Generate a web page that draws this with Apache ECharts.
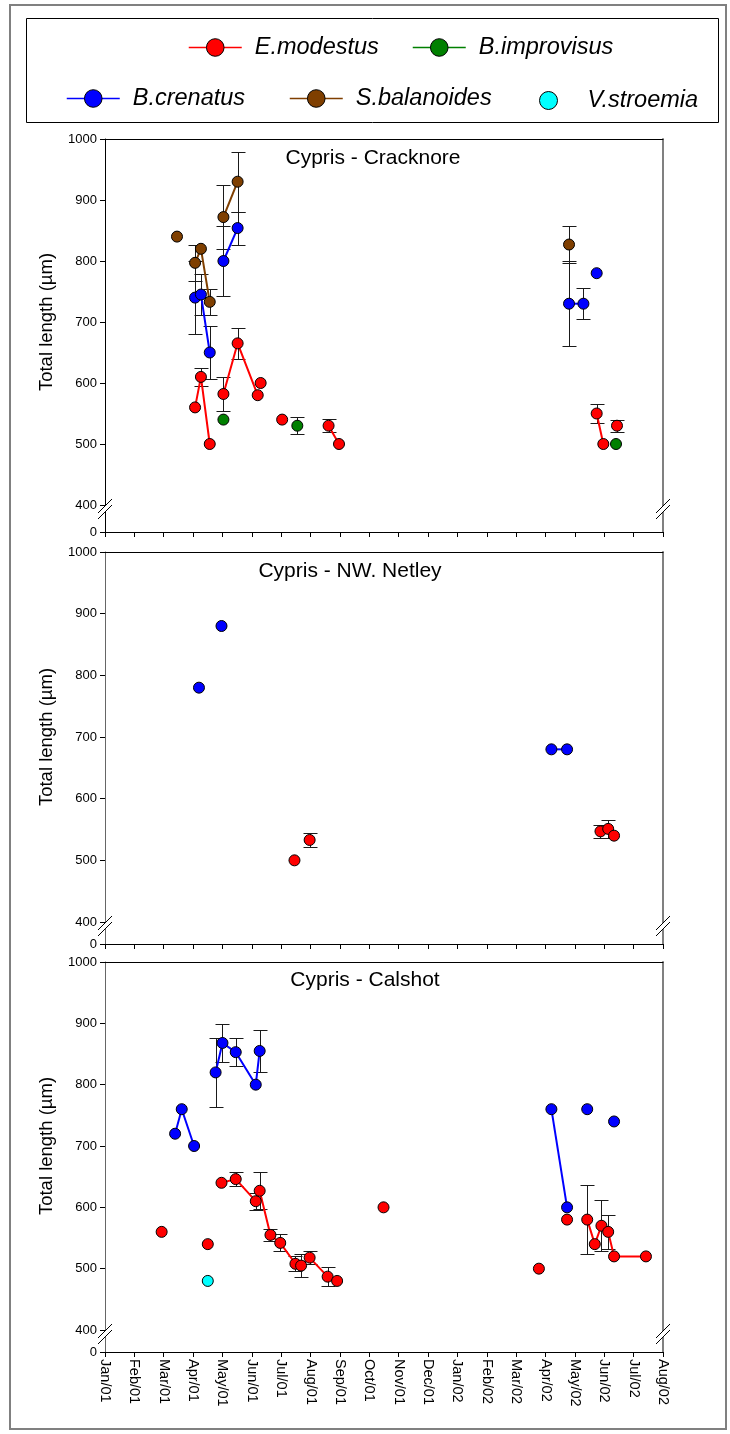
<!DOCTYPE html>
<html>
<head>
<meta charset="utf-8">
<script src="https://cdn.jsdelivr.net/npm/echarts@6/dist/echarts.min.js"></script>
<style>
  html, body { margin: 0; padding: 0; background: #fff; }
  #chart { width: 730px; height: 1434px; }
</style>
</head>
<body>
<div id="chart"></div>
<script>
// Month tick labels along the shared time axis (one tick per month start)
const monthLabels = ['Jan/01', 'Feb/01', 'Mar/01', 'Apr/01', 'May/01', 'Jun/01', 'Jul/01',
  'Aug/01', 'Sep/01', 'Oct/01', 'Nov/01', 'Dec/01', 'Jan/02', 'Feb/02', 'Mar/02',
  'Apr/02', 'May/02', 'Jun/02', 'Jul/02', 'Aug/02'];

const speciesNames = ['E.modestus', 'B.improvisus', 'B.crenatus', 'S.balanoides', 'V.stroemia'];
const panelTitles = ['Cypris - Cracknore', 'Cypris - NW. Netley', 'Cypris - Calshot'];

// Each record: [sampling date, mean total length (µm), ± error, run]
// Records sharing a run number are joined by a line.
const crackModestus = [
  ['2001-04-03', 560, 0, 1], ['2001-04-09', 610, 15, 1], ['2001-04-18', 500, 0, 1],
  ['2001-05-02', 582, 28, 2], ['2001-05-17', 665, 25, 2], ['2001-06-07', 580, 0, 2],
  ['2001-06-10', 600, 0, 3],
  ['2001-07-02', 540, 0, 4],
  ['2001-08-20', 530, 11, 5], ['2001-08-31', 500, 0, 5],
  ['2002-05-24', 550, 15, 6], ['2002-05-31', 500, 0, 6],
  ['2002-06-14', 530, 10, 7]
];
const crackImprovisus = [
  ['2001-05-02', 540, 0, 1],
  ['2001-07-18', 530, 14, 2],
  ['2002-06-13', 500, 0, 3]
];
const crackCrenatus = [
  ['2001-04-03', 740, 60, 1], ['2001-04-09', 745, 34, 1], ['2001-04-18', 650, 43, 1],
  ['2001-05-02', 800, 57, 2], ['2001-05-17', 854, 27, 2],
  ['2002-04-25', 730, 70, 3], ['2002-05-10', 730, 25, 3],
  ['2002-05-24', 780, 0, 4]
];
const crackBalanoides = [
  ['2001-03-15', 840, 0, 1],
  ['2001-04-03', 797, 29, 2], ['2001-04-09', 820, 0, 2], ['2001-04-18', 733, 21, 2],
  ['2001-05-02', 872, 52, 3], ['2001-05-17', 930, 49, 3],
  ['2002-04-25', 827, 30, 4]
];

const netleyModestus = [
  ['2001-07-15', 500, 0, 1],
  ['2001-07-31', 533, 11, 2],
  ['2002-05-28', 547, 11, 3], ['2002-06-05', 551, 14, 3], ['2002-06-11', 540, 0, 3]
];
const netleyCrenatus = [
  ['2001-04-07', 780, 0, 1],
  ['2001-04-30', 880, 0, 2],
  ['2002-04-07', 680, 0, 3], ['2002-04-23', 680, 0, 3]
];

const calModestus = [
  ['2001-02-27', 560, 0, 1],
  ['2001-04-16', 540, 0, 2],
  ['2001-04-30', 640, 0, 3], ['2001-05-15', 646, 11, 3], ['2001-06-05', 610, 14, 3],
  ['2001-06-09', 627, 30, 3], ['2001-06-20', 555, 10, 3], ['2001-06-30', 542, 14, 3],
  ['2001-07-16', 508, 12, 3], ['2001-07-22', 505, 19, 3], ['2001-07-31', 518, 10, 3],
  ['2001-08-19', 487, 15, 3], ['2001-08-29', 480, 0, 3],
  ['2001-10-16', 600, 0, 4],
  ['2002-03-25', 500, 0, 5],
  ['2002-04-23', 580, 0, 6],
  ['2002-05-14', 580, 56, 7], ['2002-05-22', 540, 0, 7], ['2002-05-29', 570, 42, 7],
  ['2002-06-05', 560, 28, 7], ['2002-06-11', 520, 0, 7], ['2002-07-14', 520, 0, 7]
];
const calCrenatus = [
  ['2001-03-13', 720, 0, 1], ['2001-03-20', 760, 0, 1], ['2001-04-02', 700, 0, 1],
  ['2001-04-24', 820, 56, 2], ['2001-05-01', 868, 31, 2], ['2001-05-15', 853, 23, 2],
  ['2001-06-05', 800, 0, 2], ['2001-06-09', 855, 34, 2],
  ['2002-04-07', 760, 0, 3], ['2002-04-23', 600, 0, 3],
  ['2002-05-14', 760, 0, 4],
  ['2002-06-11', 740, 0, 5]
];
const calStroemia = [
  ['2001-04-16', 480, 0, 1]
];

// ---- styling / layout ----
const FONT = '"Liberation Sans", Arial, Helvetica, sans-serif';
const COLORS = {
  'E.modestus': '#ff0000', 'B.improvisus': '#008000', 'B.crenatus': '#0000ff',
  'S.balanoides': '#7f3f00', 'V.stroemia': '#00ffff'
};
const PLOT_L = 105, PLOT_R = 663;
const PANELS = [
  { top: 139, height: 366, gap: 27, axisColor: '#000', titleX: 373, titleY: 160,
    data: { 'S.balanoides': crackBalanoides, 'B.crenatus': crackCrenatus,
            'E.modestus': crackModestus, 'B.improvisus': crackImprovisus } },
  { top: 552, height: 370, gap: 22, axisColor: '#666', titleX: 350, titleY: 573,
    data: { 'B.crenatus': netleyCrenatus, 'E.modestus': netleyModestus } },
  { top: 962, height: 368, gap: 22, axisColor: '#666', titleX: 365, titleY: 982,
    data: { 'B.crenatus': calCrenatus, 'E.modestus': calModestus, 'V.stroemia': calStroemia } }
];

// date string -> fractional month index counted from Jan 2001
function toMonth(s) {
  const [y, m, d] = s.split('-').map(Number);
  const dim = new Date(y, m, 0).getDate();
  return (y - 2001) * 12 + (m - 1) + (d - 1) / dim;
}

const crisp = v => Math.round(v) + 0.5;
function renderErrorBar(params, api) {
  const x = api.value(0), y = api.value(1), e = api.value(2);
  const hi = api.coord([x, y + e]), lo = api.coord([x, y - e]);
  const cx = crisp(hi[0]), y1 = crisp(hi[1]), y2 = crisp(lo[1]);
  const w = 7;
  const st = { stroke: '#1a1a1a', lineWidth: 1 };
  return {
    type: 'group',
    children: [
      { type: 'line', shape: { x1: cx, y1: y1, x2: cx, y2: y2 }, style: st },
      { type: 'line', shape: { x1: cx - w, y1: y1, x2: cx + w, y2: y1 }, style: st },
      { type: 'line', shape: { x1: cx - w, y1: y2, x2: cx + w, y2: y2 }, style: st }
    ]
  };
}

const grids = [], xAxes = [], yAxes = [], series = [], titles = [], graphics = [];
const noSplit = { show: false };

PANELS.forEach((P, i) => {
  const g = grids.length;
  grids.push({ left: PLOT_L, width: PLOT_R - PLOT_L, top: P.top, height: P.height });
  grids.push({ left: PLOT_L, width: PLOT_R - PLOT_L, top: P.top + P.height, height: P.gap });

  const xMain = xAxes.length;
  xAxes.push({
    gridIndex: g, type: 'value', min: 0, max: 19, position: 'top',
    axisLine: { show: true, onZero: false, lineStyle: { color: '#000', width: 1 } },
    axisTick: { show: false }, axisLabel: { show: false }, splitLine: noSplit
  });
  xAxes.push({
    gridIndex: g + 1, type: 'value', min: 0, max: 19, interval: 1, position: 'bottom',
    axisLine: { show: true, onZero: false, lineStyle: { color: '#000', width: 1 } },
    axisTick: { show: true, length: 5, lineStyle: { color: '#000' } },
    axisLabel: {
      show: i === PANELS.length - 1, rotate: -90, fontSize: 14.5, margin: 7, color: '#000',
      fontFamily: FONT, showMinLabel: true, showMaxLabel: true,
      formatter: v => monthLabels[v] || ''
    },
    splitLine: noSplit
  });

  const yMain = yAxes.length;
  yAxes.push({
    gridIndex: g, type: 'value', min: 400, max: 1000, interval: 100, position: 'left',
    name: 'Total length (\u00b5m)', nameLocation: 'middle', nameGap: 49,
    nameTextStyle: { fontSize: 18.5, color: '#000', fontFamily: FONT },
    axisLine: { show: true, onZero: false, lineStyle: { color: P.axisColor, width: 1 } },
    axisTick: { show: true, length: 5, lineStyle: { color: '#000' } },
    axisLabel: { fontSize: 13, margin: 8, color: '#000', fontFamily: FONT,
      showMinLabel: true, showMaxLabel: true, formatter: v => String(v) },
    splitLine: noSplit
  });
  yAxes.push({
    gridIndex: g, type: 'value', min: 400, max: 1000, position: 'right',
    axisLine: { show: true, onZero: false, lineStyle: { color: '#808080', width: 2 } },
    axisTick: { show: false }, axisLabel: { show: false }, splitLine: noSplit
  });
  yAxes.push({
    gridIndex: g + 1, type: 'value', min: 0, max: 1, interval: 1, position: 'left',
    axisLine: { show: true, onZero: false, lineStyle: { color: P.axisColor, width: 1 } },
    axisTick: { show: true, length: 5, lineStyle: { color: '#000' } },
    axisLabel: { fontSize: 13, margin: 8, color: '#000', fontFamily: FONT, formatter: v => (v === 0 ? '0' : '') },
    splitLine: noSplit
  });
  yAxes.push({
    gridIndex: g + 1, type: 'value', min: 0, max: 1, position: 'right',
    axisLine: { show: true, onZero: false, lineStyle: { color: '#808080', width: 2 } },
    axisTick: { show: false }, axisLabel: { show: false }, splitLine: noSplit
  });

  const bars = [];
  Object.keys(P.data).forEach(name => {
    const pts = P.data[name];
    const color = COLORS[name];
    const runs = {};
    pts.forEach(p => {
      (runs[p[3]] = runs[p[3]] || []).push([toMonth(p[0]), p[1]]);
      if (p[2] > 0) bars.push([toMonth(p[0]), p[1], p[2]]);
    });
    Object.keys(runs).forEach(r => {
      series.push({
        type: name === 'V.stroemia' ? 'scatter' : 'line',
        name: name, xAxisIndex: xMain, yAxisIndex: yMain,
        data: runs[r], symbol: 'circle', symbolSize: 11, showSymbol: true, showAllSymbol: true,
        itemStyle: { color: color, borderColor: '#000', borderWidth: 1, opacity: 1 },
        lineStyle: { color: color, width: 2 },
        emphasis: { disabled: true }, z: 3, animation: false
      });
    });
  });
  series.push({
    type: 'custom', xAxisIndex: xMain, yAxisIndex: yMain, data: bars,
    encode: { x: 0, y: 1 }, renderItem: renderErrorBar, silent: true, z: 2, animation: false
  });

  titles.push({
    text: panelTitles[i], left: P.titleX, top: P.titleY - 12, textAlign: 'center', padding: 0,
    textStyle: { fontSize: 21, fontWeight: 'normal', color: '#000', fontFamily: FONT }
  });

  // axis-break marks on both vertical axes at the 400 level
  const yc = P.top + P.height + 4;
  [PLOT_L, PLOT_R].forEach(x => {
    graphics.push({
      type: 'polygon', z: 100,
      shape: { points: [[x - 7, yc + 4], [x + 7, yc - 10], [x + 7, yc - 4], [x - 7, yc + 10]] },
      style: { fill: '#fff' }
    });
    [-3, 3].forEach(d => graphics.push({
      type: 'line', z: 101,
      shape: { x1: x - 7, y1: yc + d + 7, x2: x + 7, y2: yc + d - 7 },
      style: { stroke: '#000', lineWidth: 1 }
    }));
  });
});

// outer figure frame and legend box
graphics.push({ type: 'rect', z: 50, shape: { x: 10, y: 5, width: 716, height: 1424 },
  style: { fill: 'none', stroke: '#808080', lineWidth: 2 } });
graphics.push({ type: 'rect', z: 50, shape: { x: 26.5, y: 18.5, width: 692, height: 104 },
  style: { fill: 'none', stroke: '#000', lineWidth: 1 } });

const legendSpots = {
  'E.modestus': { left: 188, top: 36 },
  'B.improvisus': { left: 412, top: 36 },
  'B.crenatus': { left: 66, top: 87 },
  'S.balanoides': { left: 289, top: 87 },
  'V.stroemia': { left: 539, top: 89 }
};
const legends = speciesNames.map(name => {
  const dot = name === 'V.stroemia';
  return {
    data: [name], left: legendSpots[name].left, top: legendSpots[name].top,
    orient: 'horizontal', padding: 0, selectedMode: false,
    itemWidth: dot ? 18 : 53, itemHeight: dot ? 18 : 22,
    lineStyle: { color: COLORS[name], width: 1.5, opacity: 1 },
    itemStyle: { color: COLORS[name], borderColor: '#000', borderWidth: 1 },
    textStyle: { fontSize: 23.5, fontStyle: 'italic', color: '#000', fontFamily: FONT,
      padding: [0, 0, 0, dot ? 25 : 8] }
  };
});

const chart = echarts.init(document.getElementById('chart'), null, { renderer: 'canvas' });
chart.setOption({
  backgroundColor: '#fff',
  animation: false,
  title: titles,
  legend: legends,
  grid: grids,
  xAxis: xAxes,
  yAxis: yAxes,
  series: series,
  graphic: { elements: graphics }
});
</script>
</body>
</html>
